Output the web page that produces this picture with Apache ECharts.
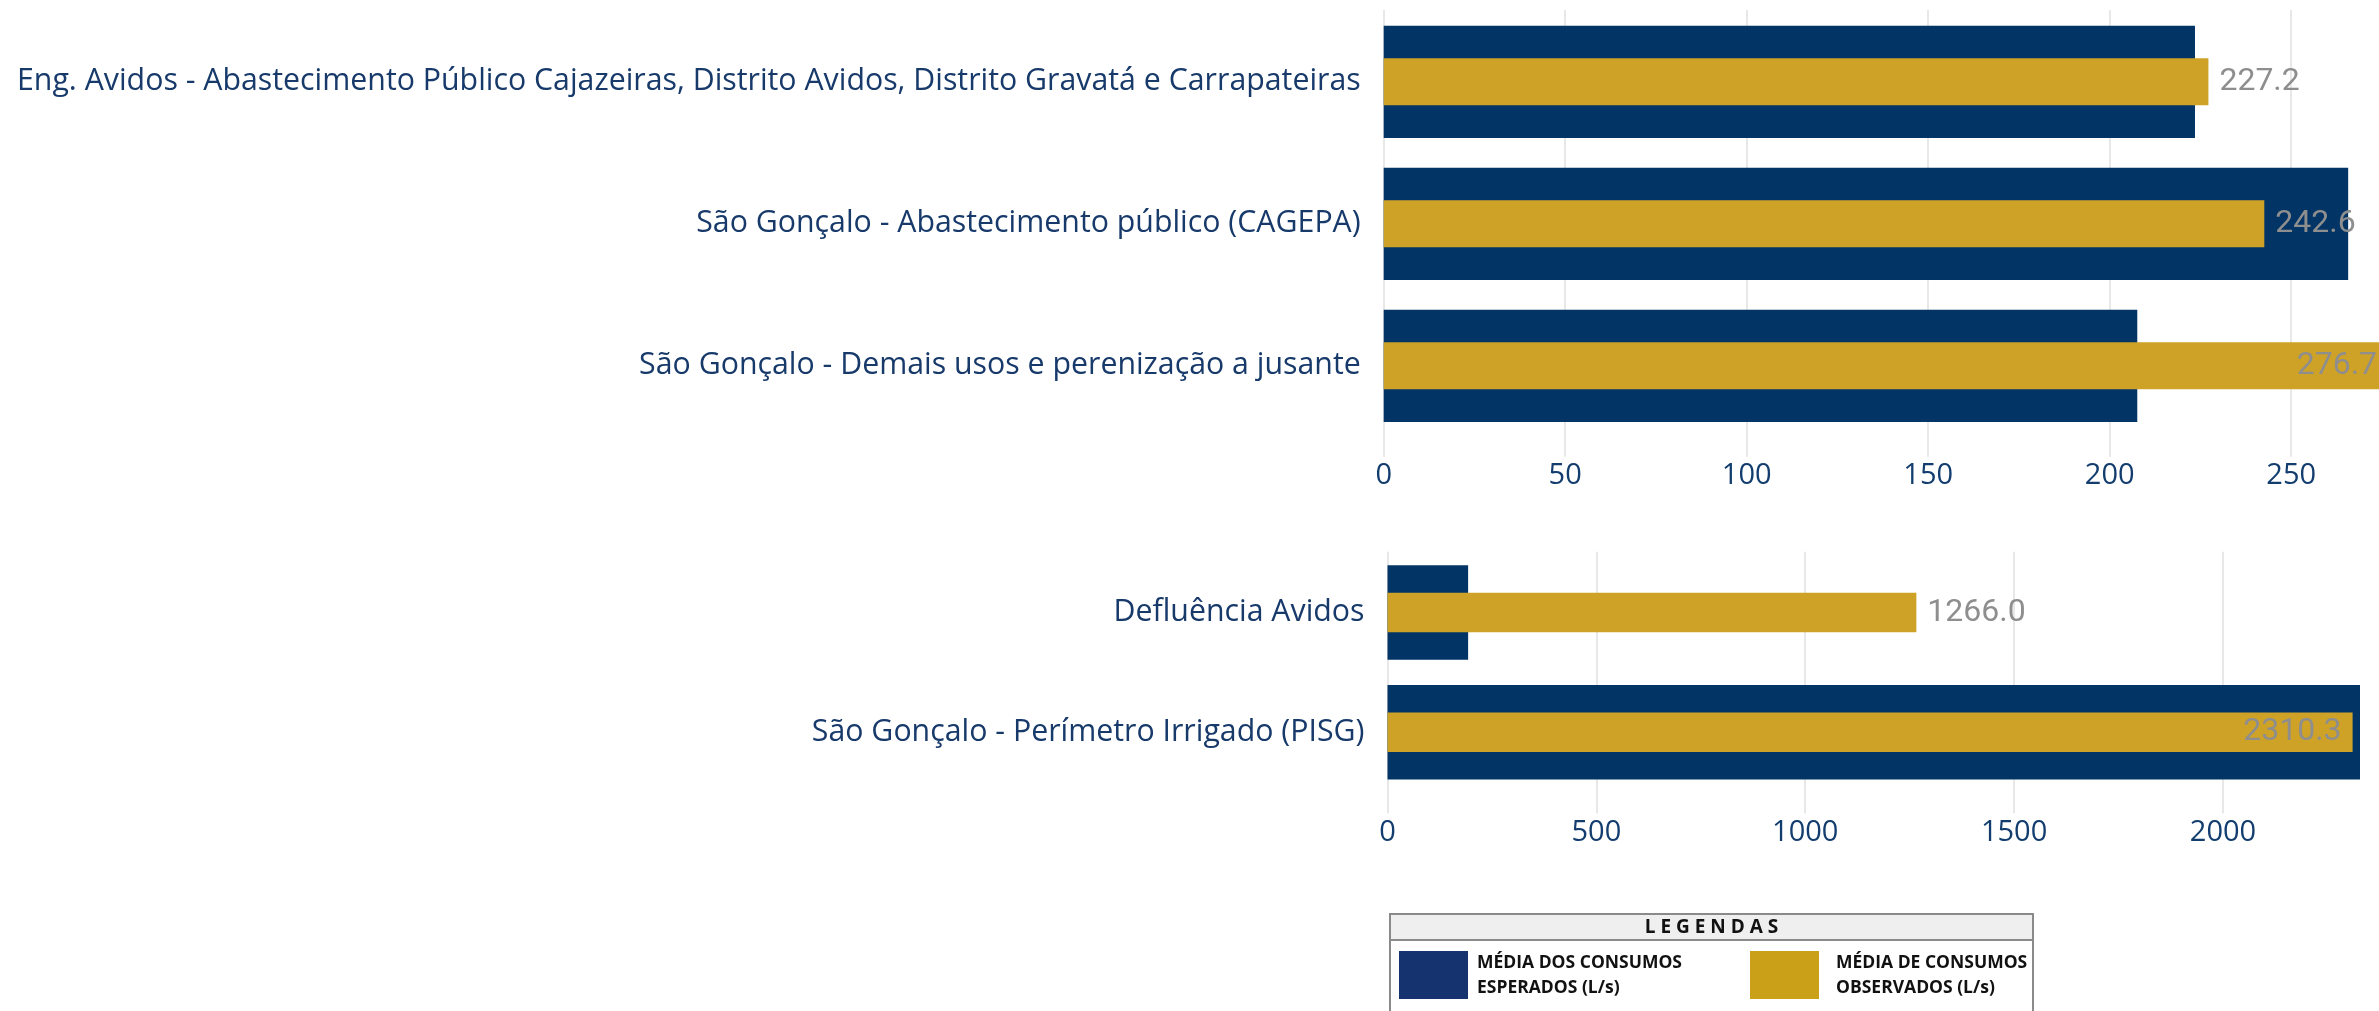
<!DOCTYPE html>
<html>
<head>
<meta charset="utf-8">
<script src="https://cdn.jsdelivr.net/npm/echarts@6/dist/echarts.min.js"></script>
<style>
  html, body { margin: 0; padding: 0; background: #fff; overflow: hidden; }
  #chart { width: 2400px; height: 1011px; }
</style>
</head>
<body>
<div id="chart"></div>
<script>
// dados do painel superior
const categoriasTopo = [
  'Eng. Avidos - Abastecimento Público Cajazeiras, Distrito Avidos, Distrito Gravatá e Carrapateiras',
  'São Gonçalo - Abastecimento público (CAGEPA)',
  'São Gonçalo - Demais usos e perenização a jusante'
]
const esperadoTopo = [223.5, 265.7, 207.6]
const observadoTopo = [227.2, 242.6, 276.7]
const intervaloTopo = 50

// dados do painel inferior
const categoriasBase = ['Defluência Avidos', 'São Gonçalo - Perímetro Irrigado (PISG)']
const esperadoBase = [193, 2328]
const observadoBase = [1266.0, 2310.3]
const intervaloBase = 500

// legenda
const tituloLegenda = 'L E G E N D A S'
const nomesLegenda = ['MÉDIA DOS CONSUMOS\nESPERADOS (L/s)', 'MÉDIA DE CONSUMOS\nOBSERVADOS (L/s)']

const AZUL = '#023466'
const OURO = '#cea226'
const TEXTO = '#173a6b'

const maxTopo = Math.max(...esperadoTopo, ...observadoTopo)
const maxBase = Math.max(...esperadoBase, ...observadoBase)

// rótulo vai para dentro da barra quando não cabe do lado de fora
function comRotulo(valores, max) {
  return valores.map(v => ({
    value: v,
    label: { position: v > max * 0.92 ? 'insideRight' : 'right' }
  }))
}

function eixoCategoria(grid, dados, mostrar) {
  return {
    type: 'category',
    gridIndex: grid,
    data: dados,
    inverse: true,
    show: mostrar,
    axisLine: { show: false },
    axisTick: { show: false },
    axisLabel: {
      show: mostrar,
      interval: 0,
      margin: 23,
      color: TEXTO,
      fontFamily: 'Open Sans',
      fontSize: 30.3
    }
  }
}

function eixoValor(grid, max, intervalo, mostrar) {
  return {
    type: 'value',
    gridIndex: grid,
    min: 0,
    max: max,
    interval: intervalo,
    show: mostrar,
    axisLine: { show: false },
    axisTick: { show: false },
    splitLine: {
      show: mostrar,
      showMaxLine: false,
      lineStyle: { color: '#e8e8e8', width: 2 }
    },
    axisLabel: {
      show: mostrar,
      showMaxLabel: false,
      margin: 5,
      color: '#123d6e',
      fontFamily: 'Open Sans',
      fontSize: 29,
      formatter: v => String(v)
    }
  }
}

function serieBarra(nome, dados, eixoX, eixoY, cor, largura, rotulo) {
  return {
    name: nome,
    type: 'bar',
    xAxisIndex: eixoX,
    yAxisIndex: eixoY,
    data: dados,
    barWidth: largura,
    itemStyle: { color: cor },
    label: rotulo ? {
      show: true,
      distance: 11,
      color: '#8e8e8e',
      fontFamily: 'Roboto',
      fontSize: 32,
      formatter: p => Number(p.value).toFixed(1)
    } : { show: false }
  }
}

const chart = echarts.init(document.getElementById('chart'))

const option = {
  animation: false,
  backgroundColor: '#fff',
  grid: [
    { left: 1383.7, top: 10.8, width: 1004.4, height: 426, outerBoundsMode: 'none' },
    { left: 1383.7, top: 10, width: 1004.4, height: 446.7, outerBoundsMode: 'none' },
    { left: 1387.5, top: 552.6, width: 972.5, height: 239.6, outerBoundsMode: 'none' },
    { left: 1387.5, top: 551.7, width: 972.5, height: 261.6, outerBoundsMode: 'none' }
  ],
  xAxis: [
    eixoValor(0, maxTopo, intervaloTopo, false),
    eixoValor(1, maxTopo, intervaloTopo, true),
    eixoValor(2, maxBase, intervaloBase, false),
    eixoValor(3, maxBase, intervaloBase, true)
  ],
  yAxis: [
    eixoCategoria(0, categoriasTopo, true),
    eixoCategoria(0, categoriasTopo, false),
    { type: 'value', gridIndex: 1, min: 0, max: 1, show: false },
    eixoCategoria(2, categoriasBase, true),
    eixoCategoria(2, categoriasBase, false),
    { type: 'value', gridIndex: 3, min: 0, max: 1, show: false }
  ],
  series: [
    serieBarra('Esperado', esperadoTopo, 0, 0, AZUL, '79%', false),
    serieBarra('Observado', comRotulo(observadoTopo, maxTopo), 0, 1, OURO, '33%', true),
    serieBarra('Esperado', esperadoBase, 2, 3, AZUL, '79%', false),
    serieBarra('Observado', comRotulo(observadoBase, maxBase), 2, 4, OURO, '33%', true)
  ],
  graphic: [
    {
      type: 'rect',
      shape: { x: 1390, y: 914, width: 643, height: 120 },
      style: { fill: '#fff', stroke: '#8a8a8a', lineWidth: 2 }
    },
    {
      type: 'rect',
      shape: { x: 1390, y: 914, width: 643, height: 26 },
      style: { fill: '#efefef', stroke: '#8a8a8a', lineWidth: 2 }
    },
    {
      type: 'text',
      x: 1711.5,
      y: 927.5,
      style: {
        text: tituloLegenda,
        fill: '#111',
        font: 'bold 19px "Open Sans"',
        align: 'center',
        verticalAlign: 'middle'
      }
    },
    {
      type: 'rect',
      shape: { x: 1399, y: 951, width: 69, height: 48 },
      style: { fill: '#15336e' }
    },
    {
      type: 'text',
      x: 1477,
      y: 975.5,
      style: {
        text: nomesLegenda[0],
        fill: '#111',
        font: 'bold 17.5px "Open Sans"',
        lineHeight: 25,
        verticalAlign: 'middle'
      }
    },
    {
      type: 'rect',
      shape: { x: 1750, y: 951, width: 69, height: 48 },
      style: { fill: '#caa018' }
    },
    {
      type: 'text',
      x: 1836,
      y: 975.5,
      style: {
        text: nomesLegenda[1],
        fill: '#111',
        font: 'bold 17.5px "Open Sans"',
        lineHeight: 25,
        verticalAlign: 'middle'
      }
    }
  ]
}

chart.setOption(option)
</script>
</body>
</html>
